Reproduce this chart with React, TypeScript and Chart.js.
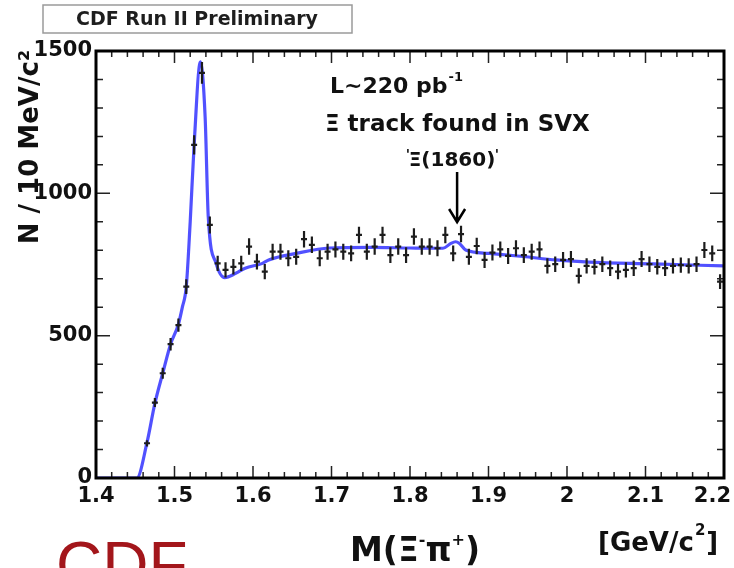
import React, { useEffect, useRef } from 'react';
import { Chart, registerables } from 'chart.js';

Chart.register(...registerables);

// ---- data ----
const binMass = [
  1.465, 1.475, 1.485, 1.495, 1.505, 1.515, 1.525, 1.535, 1.545, 1.555,
  1.565, 1.575, 1.585, 1.595, 1.605, 1.615, 1.625, 1.635, 1.645, 1.655,
  1.665, 1.675, 1.685, 1.695, 1.705, 1.715, 1.725, 1.735, 1.745, 1.755,
  1.765, 1.775, 1.785, 1.795, 1.805, 1.815, 1.825, 1.835, 1.845, 1.855,
  1.865, 1.875, 1.885, 1.895, 1.905, 1.915, 1.925, 1.935, 1.945, 1.955,
  1.965, 1.975, 1.985, 1.995, 2.005, 2.015, 2.025, 2.035, 2.045, 2.055,
  2.065, 2.075, 2.085, 2.095, 2.105, 2.115, 2.125, 2.135, 2.145, 2.155,
  2.165, 2.175, 2.185, 2.195,
];
const binCounts = [
  122, 265, 368, 470, 537, 672, 1170, 1423, 889, 754,
  731, 742, 754, 813, 760, 725, 795, 795, 772, 777,
  839, 819, 772, 795, 803, 795, 789, 854, 795, 813,
  854, 783, 813, 783, 848, 813, 813, 807, 854, 789,
  857, 777, 815, 766, 792, 803, 780, 807, 783, 795,
  803, 745, 751, 766, 769, 710, 745, 742, 751, 737,
  725, 731, 737, 769, 751, 742, 737, 745, 748, 745,
  751, 801, 789, 690,
];
const binErrors = [
  11, 16, 19, 22, 23, 26, 34, 38, 30, 27,
  27, 27, 27, 29, 28, 27, 28, 28, 28, 28,
  29, 29, 28, 28, 28, 28, 28, 29, 28, 29,
  29, 28, 29, 28, 29, 29, 29, 28, 29, 28,
  29, 28, 29, 28, 28, 28, 28, 28, 28, 28,
  28, 27, 27, 28, 28, 27, 27, 27, 27, 27,
  27, 27, 27, 28, 27, 27, 27, 27, 27, 27,
  27, 28, 28, 26,
];
const fitMass = [
  1.4, 1.452, 1.465, 1.475, 1.485, 1.495, 1.505, 1.51, 1.515, 1.52,
  1.525, 1.533, 1.539, 1.543, 1.553, 1.564, 1.578, 1.59, 1.612, 1.62,
  1.655, 1.697, 1.75, 1.8, 1.842, 1.852, 1.858, 1.863, 1.871, 1.901,
  1.944, 1.986, 2.028, 2.11, 2.2,
];
const fitCounts = [
  0, 0, 125, 262, 368, 470, 540, 600, 672, 900,
  1170, 1462, 1269, 918, 754, 704, 719, 737, 754, 766,
  789, 808, 810, 808, 807, 824, 830, 824, 801, 789,
  778, 766, 758, 752, 745,
];
const xTickValues = [1.4, 1.5, 1.6, 1.7, 1.8, 1.9, 2.0, 2.1, 2.2];
const xTickLabels = ['1.4', '1.5', '1.6', '1.7', '1.8', '1.9', '2', '2.1', '2.2'];
const yTickValues = [0, 500, 1000, 1500];
const yTickLabels = ['0', '500', '1000', '1500'];

const FONT = '"DejaVu Sans", "Liberation Sans", sans-serif';

const decorPlugin = {
  id: 'cdfDecor',
  afterDatasetsDraw(chart: any) {
    const ctx = chart.ctx;
    const xs = chart.scales.x;
    const ys = chart.scales.y;
    ctx.save();
    ctx.strokeStyle = '#1c1c1c';
    ctx.lineWidth = 2.2;
    binMass.forEach((m, i) => {
      const px = xs.getPixelForValue(m);
      const py = ys.getPixelForValue(binCounts[i]);
      const pLo = ys.getPixelForValue(binCounts[i] - binErrors[i]);
      const pHi = ys.getPixelForValue(binCounts[i] + binErrors[i]);
      ctx.beginPath();
      ctx.moveTo(px, pLo);
      ctx.lineTo(px, pHi);
      ctx.moveTo(px - 3, py);
      ctx.lineTo(px + 3, py);
      ctx.stroke();
    });
    ctx.restore();
  },
  afterDraw(chart: any) {
    const ctx = chart.ctx;
    const { left, right, top, bottom } = chart.chartArea;
    const xs = chart.scales.x;
    const ys = chart.scales.y;
    ctx.save();
    // ticks (inside, all four sides)
    ctx.strokeStyle = '#222';
    ctx.lineWidth = 1.5;
    for (let i = 0; i <= 40; i++) {
      const v = 1.4 + i * 0.02;
      const px = xs.getPixelForValue(v);
      const len = i % 5 === 0 ? 12 : 6;
      ctx.beginPath();
      ctx.moveTo(px, bottom);
      ctx.lineTo(px, bottom - len);
      ctx.moveTo(px, top);
      ctx.lineTo(px, top + len);
      ctx.stroke();
    }
    for (let i = 0; i <= 15; i++) {
      const py = ys.getPixelForValue(i * 100);
      const len = i % 5 === 0 ? 14 : 7;
      ctx.beginPath();
      ctx.moveTo(left, py);
      ctx.lineTo(left + len, py);
      ctx.moveTo(right, py);
      ctx.lineTo(right - len, py);
      ctx.stroke();
    }
    // frame
    ctx.strokeStyle = '#000';
    ctx.lineWidth = 3;
    ctx.strokeRect(left, top, right - left, bottom - top);

    // x tick labels placed by the x scale
    ctx.fillStyle = '#111';
    ctx.font = `bold 21px ${FONT}`;
    ctx.textBaseline = 'top';
    xTickValues.forEach((v, i) => {
      const px = xs.getPixelForValue(v);
      const last = i === xTickValues.length - 1;
      ctx.textAlign = last ? 'right' : 'center';
      ctx.fillText(xTickLabels[i], last ? 731 : px, bottom + 8);
    });

    // header box
    ctx.fillStyle = '#fff';
    ctx.fillRect(43, 5, 309, 28);
    ctx.strokeStyle = '#9a9a9a';
    ctx.lineWidth = 1.5;
    ctx.strokeRect(43, 5, 309, 28);
    ctx.fillStyle = '#1e1e1e';
    ctx.font = `bold 19px ${FONT}`;
    ctx.textAlign = 'center';
    ctx.textBaseline = 'middle';
    ctx.fillText('CDF Run II Preliminary', 197, 20);

    // annotations
    ctx.fillStyle = '#111';
    ctx.textAlign = 'left';
    ctx.textBaseline = 'alphabetic';
    ctx.font = `bold 22px ${FONT}`;
    ctx.fillText('L~220 pb', 330, 93);
    const w1 = ctx.measureText('L~220 pb').width;
    ctx.font = `bold 13px ${FONT}`;
    ctx.fillText('-1', 330 + w1 + 1, 81);
    ctx.font = `bold 23px ${FONT}`;
    ctx.fillText('\u039E track found in SVX', 325, 131);
    ctx.font = `bold 20px ${FONT}`;
    ctx.textAlign = 'center';
    ctx.fillText('\u039E(1860)', 452, 166);
    ctx.font = `bold 14px ${FONT}`;
    ctx.fillText("'", 408, 159);
    ctx.fillText("'", 497, 159);

    // arrow to Xi(1860)
    const ax = xs.getPixelForValue(1.86);
    ctx.strokeStyle = '#000';
    ctx.lineWidth = 2.5;
    ctx.beginPath();
    ctx.moveTo(ax, 172);
    ctx.lineTo(ax, 222);
    ctx.moveTo(ax - 8, 209);
    ctx.lineTo(ax, 222);
    ctx.lineTo(ax + 8, 209);
    ctx.stroke();

    // y-axis title
    ctx.save();
    ctx.translate(31, 147);
    ctx.rotate(-Math.PI / 2);
    ctx.font = `bold 26px ${FONT}`;
    ctx.textAlign = 'center';
    ctx.textBaseline = 'middle';
    ctx.fillStyle = '#111';
    ctx.fillText('N / 10 MeV/c\u00B2', 0, 0);
    ctx.restore();

    // x-axis title
    ctx.fillStyle = '#111';
    ctx.textBaseline = 'alphabetic';
    ctx.textAlign = 'left';
    let x0 = 350;
    const base = 561;
    const seg = (t: string, size: number, dy: number) => {
      ctx.font = `bold ${size}px ${FONT}`;
      ctx.fillText(t, x0, base + dy);
      x0 += ctx.measureText(t).width;
    };
    seg('M(\u039E', 33, 0);
    seg('-', 16, -16);
    seg('\u03C0', 33, 0);
    seg('+', 16, -16);
    seg(')', 33, 0);

    ctx.font = `bold 26px ${FONT}`;
    let gx = 598;
    ctx.fillText('[GeV/c', gx, 551);
    gx += ctx.measureText('[GeV/c').width;
    ctx.font = `bold 15px ${FONT}`;
    ctx.fillText('2', gx + 1, 535);
    gx += ctx.measureText('2').width + 2;
    ctx.font = `bold 26px ${FONT}`;
    ctx.fillText(']', gx, 551);

    // red CDF logo text
    ctx.fillStyle = '#a3161b';
    ctx.font = `64px "Liberation Sans", Arial, sans-serif`;
    ctx.fillText('CDF', 56, 587);
    ctx.restore();
  },
};

export default function App() {
  const ref = useRef<HTMLCanvasElement | null>(null);
  useEffect(() => {
    if (!ref.current) return;
    const chart = new Chart(ref.current, {
      type: 'scatter',
      data: {
        datasets: [
          {
            label: 'fit',
            data: fitMass.map((m, i) => ({ x: m, y: fitCounts[i] })),
            showLine: true,
            borderColor: 'rgba(72, 72, 255, 0.95)',
            borderWidth: 3.2,
            pointRadius: 0,
            cubicInterpolationMode: 'monotone',
          },
          {
            label: 'data',
            data: binMass.map((m, i) => ({ x: m, y: binCounts[i] })),
            showLine: false,
            pointRadius: 0,
          },
        ],
      },
      options: {
        responsive: false,
        animation: false,
        devicePixelRatio: 1,
        layout: { padding: { left: 0, right: 10, top: 51, bottom: 0 } },
        plugins: { legend: { display: false }, tooltip: { enabled: false } },
        scales: {
          x: {
            type: 'linear',
            min: 1.4,
            max: 2.2,
            grid: { display: false, drawTicks: false },
            border: { display: false },
            afterBuildTicks: (s: any) => {
              s.ticks = xTickValues.map((v) => ({ value: v }));
            },
            afterFit: (s: any) => {
              s.height = 90;
              s.paddingLeft = 0;
              s.paddingRight = 0;
            },
            ticks: { display: false, autoSkip: false, maxRotation: 0 },
          },
          y: {
            min: 0,
            max: 1500,
            grid: { display: false, drawTicks: false },
            border: { display: false },
            afterBuildTicks: (s: any) => {
              s.ticks = yTickValues.map((v) => ({ value: v }));
            },
            afterFit: (s: any) => {
              s.width = 96;
              s.paddingTop = 0;
              s.paddingBottom = 0;
            },
            ticks: {
              autoSkip: false,
              padding: 4,
              color: '#111',
              font: { family: FONT, size: 21, weight: 'bold' },
              callback: (_v: any, i: number) => yTickLabels[i],
            },
          },
        },
      },
      plugins: [decorPlugin],
    } as any);
    return () => chart.destroy();
  }, []);
  return (
    <div style={{ position: 'fixed', left: 0, top: 0, width: 734, height: 568, background: '#fff' }}>
      <canvas ref={ref} width={734} height={568} style={{ width: 734, height: 568 }} />
    </div>
  );
}
